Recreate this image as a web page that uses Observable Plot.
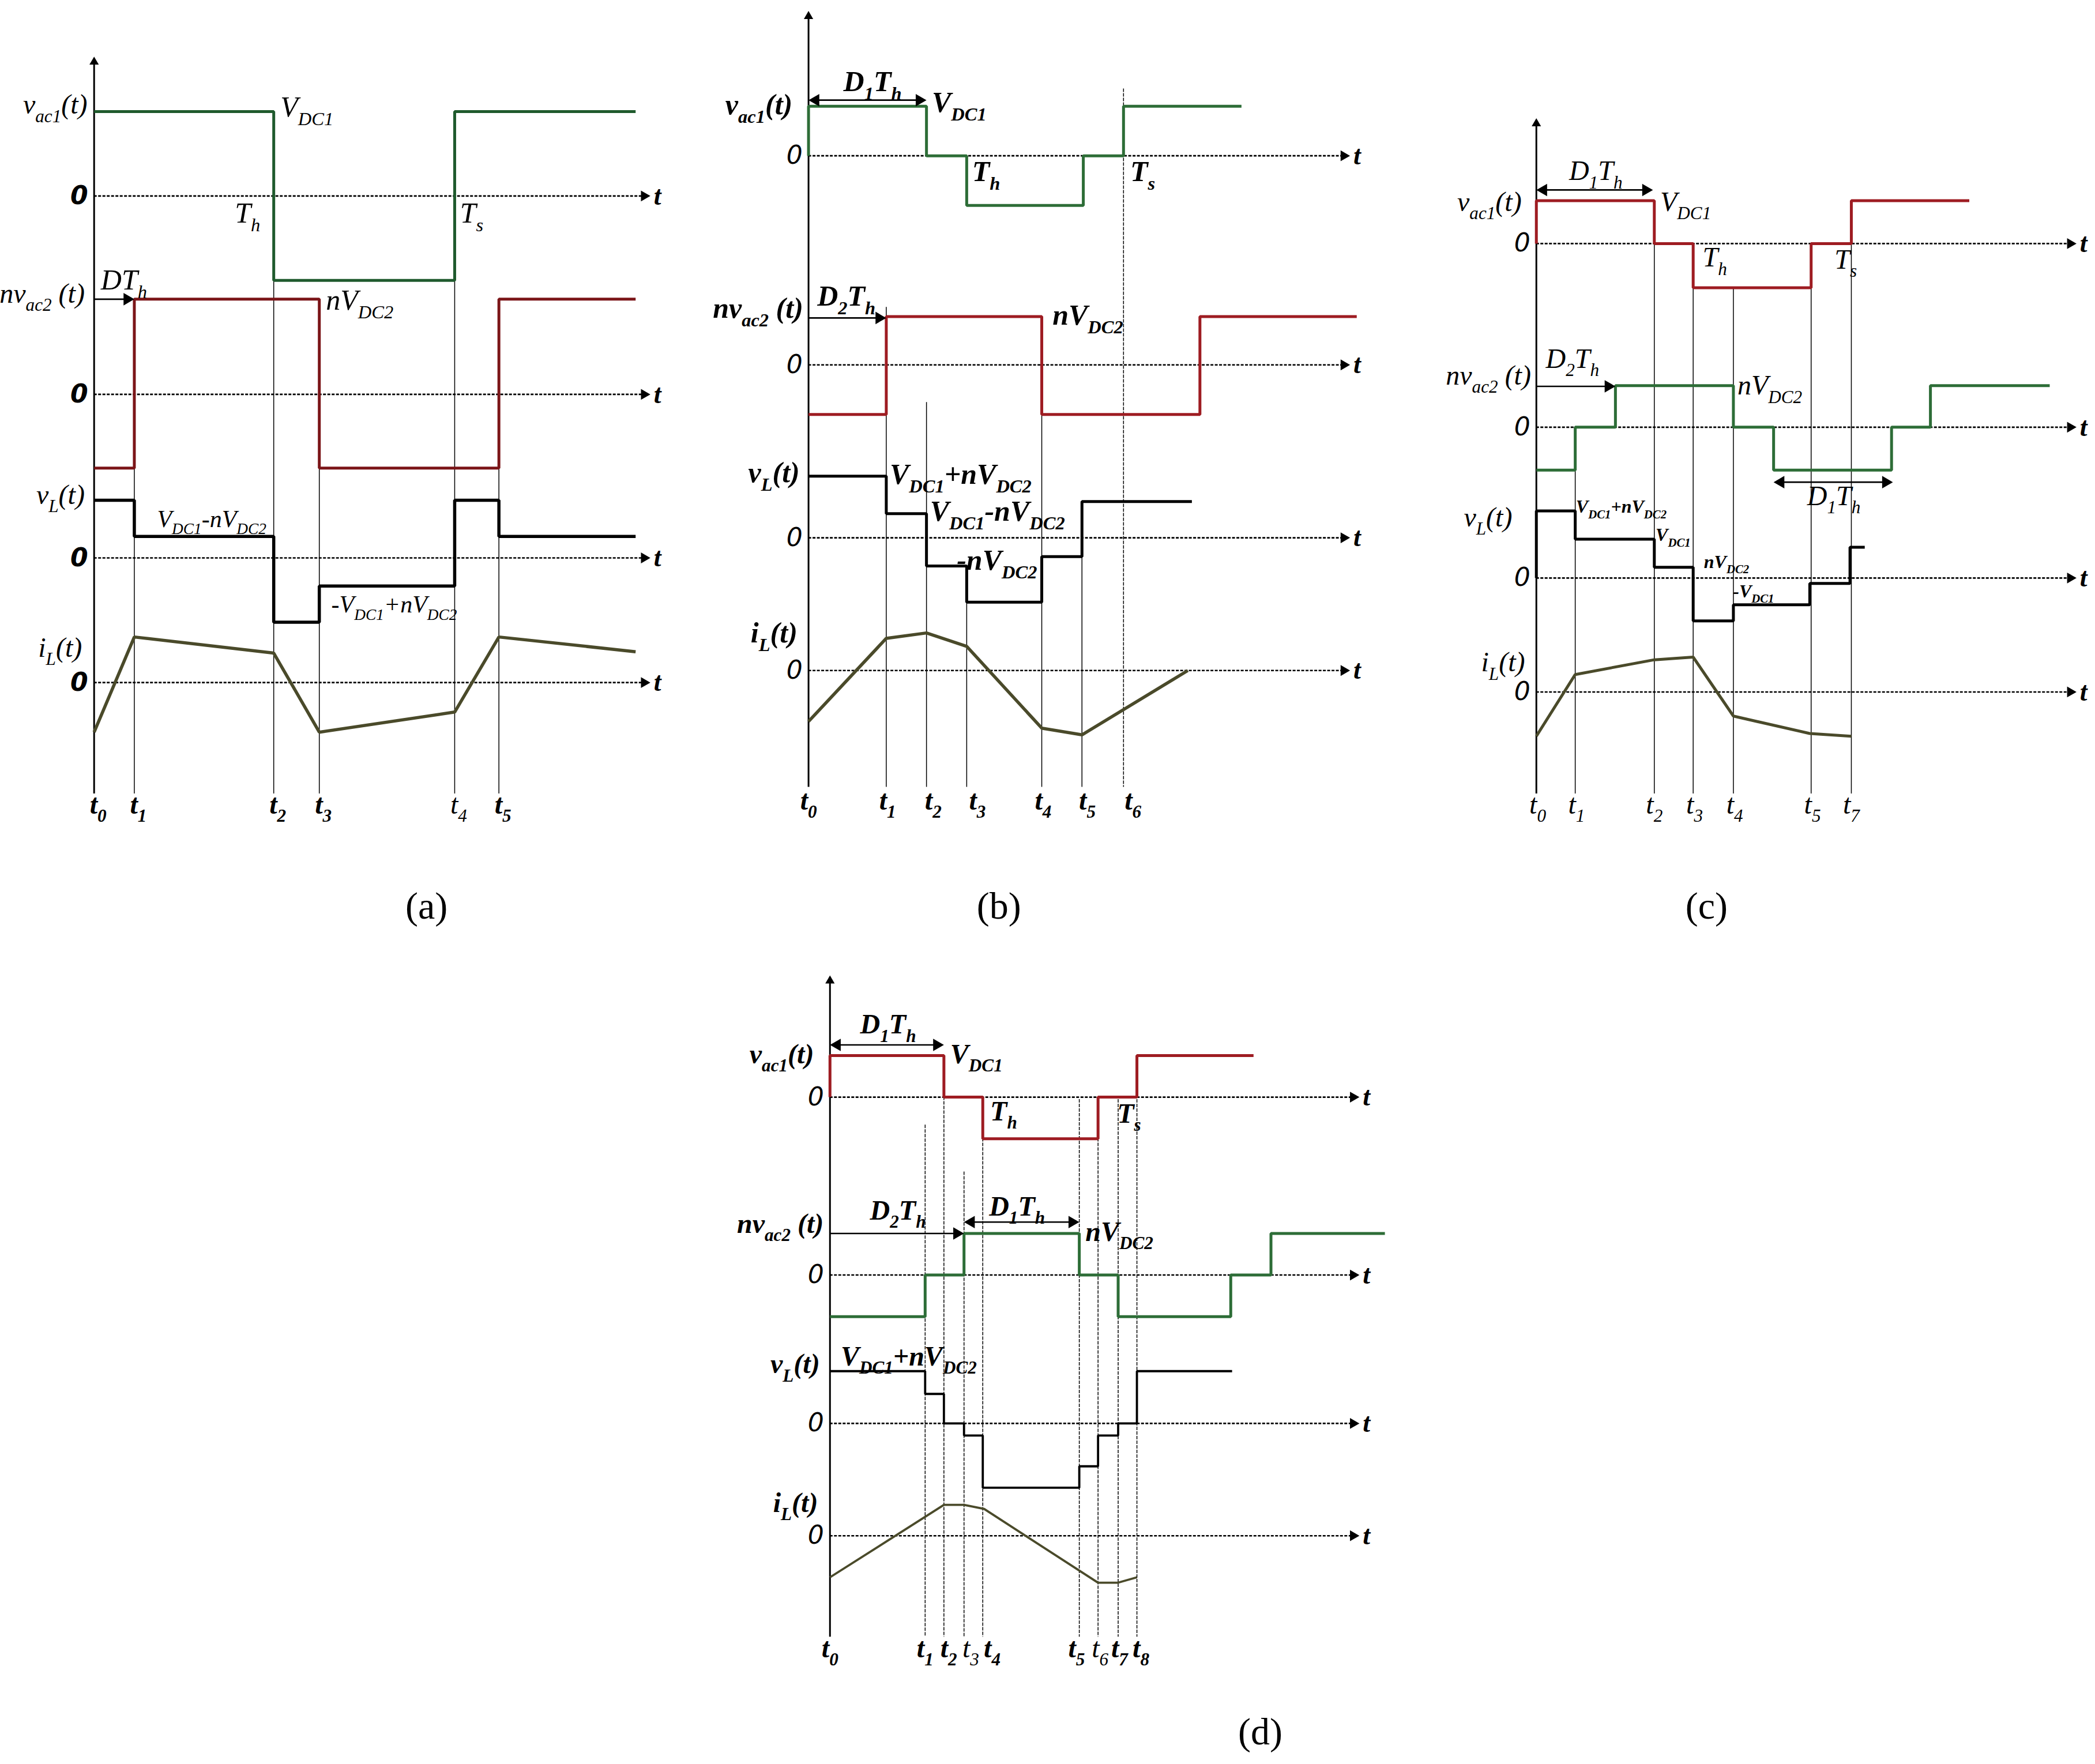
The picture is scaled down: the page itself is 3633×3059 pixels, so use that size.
<!DOCTYPE html>
<html>
<head>
<meta charset="utf-8">
<script src="https://cdn.jsdelivr.net/npm/d3@7"></script>
<script src="https://cdn.jsdelivr.net/npm/@observablehq/plot@0.6"></script>
<style>html,body{margin:0;padding:0;background:#fff}</style>
</head>
<body>
<div id="chart"></div>
<script>
// ---------------- DATA ----------------
// time values are relative to t0 of each panel; levels relative to each trace's zero line (up = positive)

// Panel (a)
const aTimes = [0, 30, 134, 168, 269, 302];
const aTickNames = ["t_{0}", "t_{1}", "t_{2}", "t_{3}", "t_{4}", "t_{5}"];
const aVac1 = [[0, 63], [134, -63], [269, 63], [404, 63]];
const aNvac2 = [[0, -55], [30, 71], [168, -55], [302, 71], [404, 71]];
const aVL = [[0, 43], [30, 16], [134, -48], [168, -21], [269, 43], [302, 16], [404, 16]];
const aIL = [[0, -37], [30, 34], [134, 22], [168, -37], [269, -22], [302, 34], [404, 23]];

// Panel (b)
const bTimes = [0, 58, 88, 118, 174, 204, 235];
const bTickNames = ["t_{0}", "t_{1}", "t_{2}", "t_{3}", "t_{4}", "t_{5}", "t_{6}"];
const bVac1 = [[0, 0], [0, 37], [88, 0], [118, -37], [205, 0], [235, 37], [323, 37]];
const bNvac2 = [[0, -37], [58, 36], [174, -37], [292, 36], [409, 36]];
const bVL = [[0, 46], [58, 18], [88, -21], [118, -48], [174, -14], [204, 27], [286, 27]];
const bIL = [[0, -38], [58, 24], [88, 28], [118, 18], [174, -43], [204, -48], [283, 0]];

// Panel (c)
const cTimes = [0, 29, 88, 117, 147, 205, 235];
const cTickNames = ["t_{0}", "t_{1}", "t_{2}", "t_{3}", "t_{4}", "t_{5}", "t_{7}"];
const cVac1 = [[0, 0], [0, 32], [88, 0], [117, -33], [205, 0], [235, 32], [323, 32]];
const cNvac2 = [[0, -32], [29, 0], [59, 31], [147, 0], [177, -32], [265, 0], [294, 31], [383, 31]];
const cVL = [[0, 0], [0, 50], [29, 29], [88, 8], [117, -32], [147, -20], [204, -4], [234, 23], [245, 23]];
const cIL = [[0, -33], [29, 13], [88, 24], [117, 26], [147, -18], [204, -31], [235, -33]];

// Panel (d)
const dTimes = [0, 71, 85, 100, 114, 186, 200, 215, 229];
const dTickNames = ["t_{0}", "t_{1}", "t_{2}", "t_{3}", "t_{4}", "t_{5}", "t_{6}", "t_{7}", "t_{8}"];
const dVac1 = [[0, 0], [0, 31], [85, 0], [114, -31], [200, 0], [229, 31], [316, 31]];
const dNvac2 = [[0, -31], [71, 0], [100, 31], [186, 0], [215, -31], [299, 0], [329, 31], [414, 31]];
const dVL = [[0, 39], [71, 22], [85, 0], [100, -9], [114, -48], [186, -32], [200, -9], [215, 0], [229, 39], [300, 39]];
const dIL = [[0, -31], [85, 23], [100, 23], [115, 20], [200, -35], [215, -35], [229, -31]];

// Trace names
const rowKeys = ["vac1", "nvac2", "vL", "iL"];
const rowNames = ["v_{ac1}(t)", "nv_{ac2} (t)", "v_{L}(t)", "i_{L}(t)"];
const panelLetters = ["(a)", "(b)", "(c)", "(d)"];

// Annotations (anchored at panel time t and level v on a trace)
const aLabels = [
  {text: "V_{DC1}", t: 139, row: "vac1", v: 66},
  {text: "T_{h}", t: 105, row: "vac1", v: -13},
  {text: "T_{s}", t: 273, row: "vac1", v: -13},
  {text: "DT_{h}", t: 5, row: "nvac2", v: 85},
  {text: "nV_{DC2}", t: 173, row: "nvac2", v: 70},
  {text: "V_{DC1}-nV_{DC2}", t: 47, row: "vL", v: 29, small: true},
  {text: "-V_{DC1}+nV_{DC2}", t: 177, row: "vL", v: -35, small: true}
];
const aArrows = [{from: 0, to: 30, row: "nvac2", v: 71, both: false}];

const bLabels = [
  {text: "D_{1}T_{h}", t: 26, row: "vac1", v: 55},
  {text: "V_{DC1}", t: 92, row: "vac1", v: 39.5},
  {text: "T_{h}", t: 122, row: "vac1", v: -12},
  {text: "T_{s}", t: 240, row: "vac1", v: -12},
  {text: "D_{2}T_{h}", t: 6.5, row: "nvac2", v: 51},
  {text: "nV_{DC2}", t: 182, row: "nvac2", v: 37},
  {text: "V_{DC1}+nV_{DC2}", t: 60.6, row: "vL", v: 47},
  {text: "V_{DC1}-nV_{DC2}", t: 90.6, row: "vL", v: 19.5},
  {text: "-nV_{DC2}", t: 110.6, row: "vL", v: -17}
];
const bArrows = [
  {from: 0, to: 88, row: "vac1", v: 41.5, both: true},
  {from: 0, to: 58, row: "nvac2", v: 35, both: false}
];

const cLabels = [
  {text: "D_{1}T_{h}", t: 24.4, row: "vac1", v: 54},
  {text: "V_{DC1}", t: 92.4, row: "vac1", v: 31},
  {text: "T_{h}", t: 124, row: "vac1", v: -10.5},
  {text: "T_{s}", t: 222.4, row: "vac1", v: -12},
  {text: "D_{2}T_{h}", t: 7, row: "nvac2", v: 51},
  {text: "nV_{DC2}", t: 150, row: "nvac2", v: 31},
  {text: "D_{1}T_{h}", t: 202, row: "nvac2", v: -51.5},
  {text: "V_{DC1}+nV_{DC2}", t: 29.5, row: "vL", v: 53, small: true},
  {text: "V_{DC1}", t: 89, row: "vL", v: 32, small: true},
  {text: "nV_{DC2}", t: 125, row: "vL", v: 12, small: true},
  {text: "-V_{DC1}", t: 146.7, row: "vL", v: -10, small: true}
];
const cArrows = [
  {from: 0, to: 87, row: "vac1", v: 40, both: true},
  {from: 0, to: 59, row: "nvac2", v: 30.5, both: false},
  {from: 177, to: 266, row: "nvac2", v: -41, both: true}
];

const dLabels = [
  {text: "D_{1}T_{h}", t: 22.5, row: "vac1", v: 54},
  {text: "V_{DC1}", t: 89.7, row: "vac1", v: 32},
  {text: "T_{h}", t: 119.5, row: "vac1", v: -10.6},
  {text: "T_{s}", t: 214.2, row: "vac1", v: -12.5},
  {text: "D_{2}T_{h}", t: 29.8, row: "nvac2", v: 48},
  {text: "D_{1}T_{h}", t: 118.7, row: "nvac2", v: 51},
  {text: "nV_{DC2}", t: 190.6, row: "nvac2", v: 32},
  {text: "V_{DC1}+nV_{DC2}", t: 8, row: "vL", v: 50}
];
const dArrows = [
  {from: 0, to: 85, row: "vac1", v: 39, both: true},
  {from: 0, to: 100, row: "nvac2", v: 31, both: false},
  {from: 100, to: 186, row: "nvac2", v: 39.5, both: true}
];

// ---------------- LAYOUT & STYLE ----------------
const FIG_W = 3633, FIG_H = 3059, UNIT_W = 1563, UNIT_H = 1316;
const PX = FIG_W / UNIT_W;
const SERIF = "'Liberation Serif', 'Times New Roman', serif";
const SANS = "'DejaVu Sans', sans-serif";
const GREEN_A = "#1f5a2d", RED_A = "#7b1518", GREEN = "#2d6d37", RED = "#9e1c22", OLIVE = "#4a4a2a";

const panels = [
  {
    ox: 70, rows: {vac1: 146, nvac2: 294, vL: 416, iL: 509}, axisTop: 42, axisBottom: 592, zeroLen: 415, tickY: 600, tickDx: [3, 3, 3, 3, 3, 3],
    series: {vac1: aVac1, nvac2: aNvac2, vL: aVL, iL: aIL},
    colors: {vac1: GREEN_A, nvac2: RED_A, vL: "#000", iL: OLIVE}, widths: {vac1: 5, nvac2: 5, vL: 5.5, iL: 5.5},
    times: aTimes, tickNames: aTickNames, regularTicks: [4], guideTops: [349, 209, 349, 209, 349], dottedGuides: [],
    weight: "normal", zeroWeight: "bold", size: 50, nameSize: 48, smallSize: 42,
    rowLabelT: [-5, -7, -7, -9], rowLabelV: [68, 75, 47, 26],
    labels: aLabels, arrows: aArrows, letter: [318, 676]
  },
  {
    ox: 603, rows: {vac1: 116, nvac2: 272, vL: 401, iL: 500}, axisTop: 8, axisBottom: 587, zeroLen: 404, tickY: 597, tickDx: [0, 1, 5, 8, 1, 4, 7],
    series: {vac1: bVac1, nvac2: bNvac2, vL: bVL, iL: bIL},
    colors: {vac1: GREEN, nvac2: RED, vL: "#000", iL: OLIVE}, widths: {vac1: 5, nvac2: 5, vL: 5, iL: 5.5},
    times: bTimes, tickNames: bTickNames, regularTicks: [], guideTops: [229, 300, 449, 309, 414, 66], dottedGuides: [6],
    weight: "bold", zeroWeight: "normal", size: 50, nameSize: 50, smallSize: 32,
    rowLabelT: [-12, -4, -6.6, -8.3], rowLabelV: [38, 42, 48.5, 28],
    labels: bLabels, arrows: bArrows, letter: [745, 676]
  },
  {
    ox: 1146, rows: {vac1: 181.5, nvac2: 318.5, vL: 431, iL: 516}, axisTop: 88, axisBottom: 592, zeroLen: 403, tickY: 600, tickDx: [1, 1, 0, 1, 1, 1, 0],
    series: {vac1: cVac1, nvac2: cNvac2, vL: cVL, iL: cIL},
    colors: {vac1: RED, nvac2: GREEN, vL: "#000", iL: OLIVE}, widths: {vac1: 5, nvac2: 5, vL: 5, iL: 5},
    times: cTimes, tickNames: cTickNames, regularTicks: [0, 1, 2, 3, 4, 5, 6], guideTops: [318, 181, 214, 215, 181, 150], dottedGuides: [],
    weight: "normal", zeroWeight: "normal", size: 48, nameSize: 48, smallSize: 32,
    rowLabelT: [-11, -4, -18, -8.5], rowLabelV: [31, 38.5, 45, 22],
    labels: cLabels, arrows: cArrows, letter: [1273, 676]
  },
  {
    ox: 619, rows: {vac1: 818.3, nvac2: 951, vL: 1061.7, iL: 1145.5}, axisTop: 727.5, axisBottom: 1221, zeroLen: 395, tickY: 1229.5, tickDx: [0, 0, 3.6, 5, 7, -2, 1.5, 1, 3],
    series: {vac1: dVac1, nvac2: dNvac2, vL: dVL, iL: dIL},
    colors: {vac1: RED, nvac2: GREEN, vL: "#000", iL: OLIVE}, widths: {vac1: 5, nvac2: 5, vL: 3.8, iL: 3.8},
    times: dTimes, tickNames: dTickNames, regularTicks: [3, 6], guideTops: [839, 818, 874, 849, 820, 818, 820, 820], dottedGuides: [1, 2, 3, 4, 5, 6, 7, 8],
    weight: "bold", zeroWeight: "normal", size: 48, nameSize: 48, smallSize: 32,
    rowLabelT: [-12, -4.7, -7.6, -9], rowLabelV: [32, 38, 44, 24.5],
    labels: dLabels, arrows: dArrows, letter: [940, 1292]
  }
];

// distance from a triangle symbol's centre to its tip, in unit space
const tipOff = r => 2 * Math.sqrt(Math.PI * r * r / (3 * Math.sqrt(3))) / PX;

function textMark(items, {family = SERIF, size, weight = "normal", style = "italic", anchor = "start"}) {
  return Plot.text(items, {
    x: d => d.x, y: d => d.y, text: d => d.text,
    fontFamily: family, fontSize: size, fontWeight: weight, fontStyle: style,
    textAnchor: anchor, lineAnchor: "middle", fill: "black"
  });
}

function panelMarks(P, pi) {
  const X = t => P.ox + t;
  const Y = (row, v) => P.rows[row] - v;
  const marks = [];

  // vertical axis with arrow
  const ra = 6;
  marks.push(Plot.ruleX([0], {x: X, y1: () => P.axisTop + tipOff(ra), y2: () => P.axisBottom, stroke: "black", strokeWidth: 3}));
  marks.push(Plot.dot([0], {x: X, y: () => P.axisTop + tipOff(ra), symbol: "triangle", r: ra, fill: "black", stroke: "none"}));

  // dashed zero lines with arrows
  const rz = 7;
  marks.push(Plot.ruleY(rowKeys, {y: k => P.rows[k], x1: () => X(0), x2: () => X(P.zeroLen) - tipOff(rz), stroke: "black", strokeWidth: 2.6, strokeDasharray: "5,2.5"}));
  marks.push(Plot.dot(rowKeys, {x: () => X(P.zeroLen) - tipOff(rz), y: k => P.rows[k], symbol: "triangle", r: rz, rotate: 90, fill: "black", stroke: "none"}));

  // guide lines at the switching instants
  const guides = P.times.slice(1).map((t, i) => ({t, top: P.guideTops[i], dotted: P.dottedGuides.includes(i + 1)}));
  marks.push(Plot.ruleX(guides.filter(g => !g.dotted), {x: g => X(g.t), y1: g => g.top, y2: () => P.axisBottom, stroke: "black", strokeWidth: 1.5}));
  marks.push(Plot.ruleX(guides.filter(g => g.dotted), {x: g => X(g.t), y1: g => g.top, y2: () => P.axisBottom, stroke: "black", strokeWidth: 1.5, strokeDasharray: "6,2"}));

  // waveforms
  for (const k of rowKeys) {
    marks.push(Plot.line(P.series[k], {
      x: d => X(d[0]), y: d => Y(k, d[1]),
      curve: k === "iL" ? "linear" : "step-after",
      stroke: P.colors[k], strokeWidth: P.widths[k], strokeLinejoin: "miter", strokeLinecap: "butt"
    }));
  }

  // annotation arrows
  const rh = 8, oh = tipOff(rh);
  for (const a of P.arrows) {
    const y = Y(a.row, a.v);
    const x1 = X(a.from) + (a.both ? oh * 0.6 : 0), x2 = X(a.to) - oh * 0.6;
    marks.push(Plot.ruleY([a], {y: () => y, x1: () => x1, x2: () => x2, stroke: "black", strokeWidth: 2.6}));
    marks.push(Plot.dot([a], {x: () => X(a.to) - oh, y: () => y, symbol: "triangle", r: rh, rotate: 90, fill: "black", stroke: "none"}));
    if (a.both) marks.push(Plot.dot([a], {x: () => X(a.from) + oh, y: () => y, symbol: "triangle", r: rh, rotate: -90, fill: "black", stroke: "none"}));
  }

  // trace names
  const names = rowKeys.map((k, i) => ({text: rowNames[i], x: X(P.rowLabelT[i]), y: Y(k, P.rowLabelV[i])}));
  marks.push(textMark(names, {size: P.nameSize, weight: P.weight, anchor: "end"}));

  // zeros and "t"
  marks.push(textMark(rowKeys.map(k => ({text: "0", x: X(-4.5), y: P.rows[k]})), {family: SANS, size: 44, weight: P.zeroWeight, anchor: "end"}));
  marks.push(textMark(rowKeys.map(k => ({text: "t", x: X(P.zeroLen + 2.5), y: P.rows[k]})), {size: 46, weight: "bold", anchor: "start"}));

  // annotation texts
  const ann = P.labels.map(l => ({text: l.text, x: X(l.t), y: Y(l.row, l.v), small: !!l.small}));
  marks.push(textMark(ann.filter(l => !l.small), {size: P.size, weight: P.weight}));
  marks.push(textMark(ann.filter(l => l.small), {size: P.smallSize, weight: pi === 0 ? "normal" : "bold"}));

  // tick labels
  const ticks = P.times.map((t, i) => ({text: P.tickNames[i], x: X(t + P.tickDx[i]), y: P.tickY, regular: P.regularTicks.includes(i)}));
  marks.push(textMark(ticks.filter(d => !d.regular), {size: 48, weight: "bold", anchor: "middle"}));
  marks.push(textMark(ticks.filter(d => d.regular), {size: 48, weight: "normal", anchor: "middle"}));

  return marks;
}

const allMarks = panels.flatMap((P, i) => panelMarks(P, i));
allMarks.push(Plot.text(panels.map((P, i) => ({text: panelLetters[i], x: P.letter[0], y: P.letter[1]})), {
  x: d => d.x, y: d => d.y, text: d => d.text, fontFamily: SERIF, fontSize: 66, fill: "black", textAnchor: "middle"
}));

const chart = Plot.plot({
  width: FIG_W, height: FIG_H,
  marginTop: 0, marginRight: 0, marginBottom: 0, marginLeft: 0,
  x: {domain: [0, UNIT_W], range: [0, FIG_W], axis: null},
  y: {domain: [0, UNIT_H], range: [0, FIG_H], axis: null},
  style: {background: "white", overflow: "visible"},
  marks: allMarks
});
document.getElementById("chart").append(chart);

// rich text: turn "_{...}" into subscripts
const SVGNS = "http://www.w3.org/2000/svg";
chart.querySelectorAll("text").forEach(el => {
  const s = el.textContent;
  if (!s.includes("_{")) return;
  const fs = parseFloat(getComputedStyle(el).fontSize);
  const parts = [];
  const re = /_\{([^}]*)\}/g;
  let last = 0, m;
  while ((m = re.exec(s))) {
    if (m.index > last) parts.push([s.slice(last, m.index), false]);
    parts.push([m[1], true]);
    last = re.lastIndex;
  }
  if (last < s.length) parts.push([s.slice(last), false]);
  el.textContent = "";
  let cur = 0;
  for (const [txt, sub] of parts) {
    const ts = document.createElementNS(SVGNS, "tspan");
    const target = sub ? fs * 0.3 : 0;
    if (target !== cur) ts.setAttribute("dy", String(target - cur));
    cur = target;
    if (sub) ts.setAttribute("font-size", String(fs * 0.65));
    ts.textContent = txt;
    el.appendChild(ts);
  }
});
</script>
</body>
</html>
